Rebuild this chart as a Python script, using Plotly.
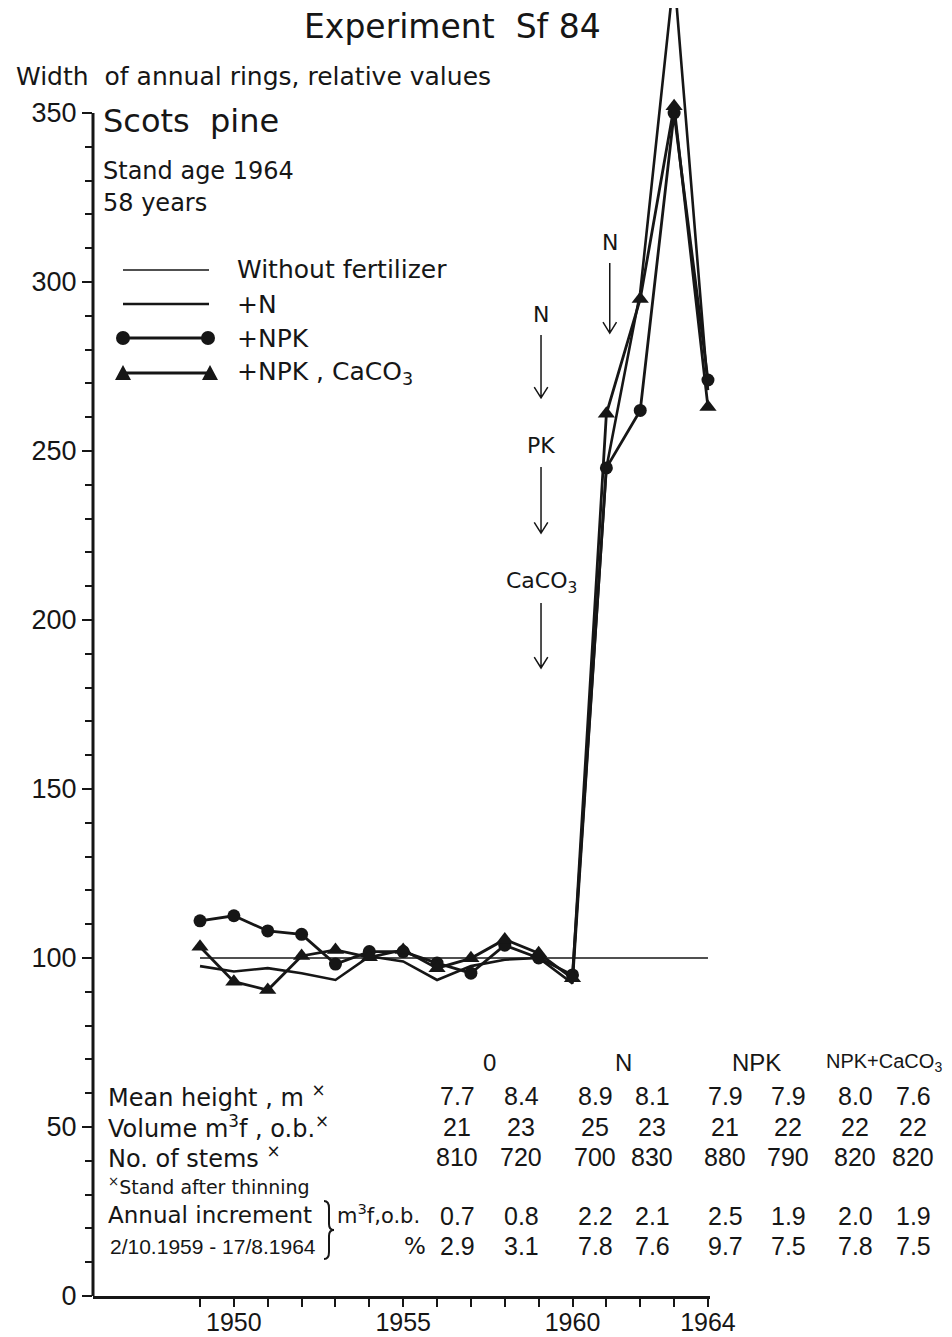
import plotly.graph_objects as go

# ---------------- data ----------------
years = [1949, 1950, 1951, 1952, 1953, 1954, 1955, 1956,
         1957, 1958, 1959, 1960, 1961, 1962, 1963, 1964]
without_fert = [100, 100, 100, 100, 100, 100, 100, 100,
                100, 100, 100, 100, 100, 100, 100, 100]
plus_n = [97.6, 96, 97, 95.5, 93.5, 100.5, 99, 93.5,
          97.6, 99.5, 100, 92.5, 245, 297, 391, 268]
plus_npk = [111, 112.5, 108, 107, 98.2, 101.9, 101.9, 98.5,
            95.5, 103.8, 100, 95, 245, 262, 350, 271]
plus_npk_caco3 = [103.3, 93, 90.5, 100.6, 102.4, 100.2, 102.4, 97,
                  99.9, 105.5, 101.4, 94, 261, 295, 352, 263]

x_major_vals = [1950, 1955, 1960, 1964]
x_major_text = ["1950", "1955", "1960", "1964"]
x_minor_vals = [1949, 1951, 1952, 1953, 1954, 1956, 1957, 1958, 1959, 1961, 1962, 1963]
y_tick_vals = [0, 50, 100, 150, 200, 250, 300, 350]
y_minor_vals = [v for v in range(10, 350, 10) if v % 50 != 0]

# fertilisation arrows: label, year, shaft top, shaft bottom (relative-value units)
arrow_labels = ["N", "PK", "CaCO<sub>3</sub>", "N"]
arrow_years = [1959.07, 1959.07, 1959.07, 1961.1]
arrow_tops = [284.3, 245.3, 205.0, 305.6]
arrow_bottoms = [265.7, 225.7, 185.8, 284.9]

# table
treatments = ["0", "N", "NPK", "NPK+CaCO<sub>3</sub>"]
mean_height = ["7.7", "8.4", "8.9", "8.1", "7.9", "7.9", "8.0", "7.6"]
volume = ["21", "23", "25", "23", "21", "22", "22", "22"]
stems = ["810", "720", "700", "830", "880", "790", "820", "820"]
incr_m3 = ["0.7", "0.8", "2.2", "2.1", "2.5", "1.9", "2.0", "1.9"]
incr_pct = ["2.9", "3.1", "7.8", "7.6", "9.7", "7.5", "7.8", "7.5"]

# ---------------- layout constants ----------------
OFF = 8                               # default body margin of the html page
W, H = 952 - 2 * OFF, 1337 - OFF
SL, SR, SB = 93, 710, 1296            # plot area as seen on screen (left, right, bottom)
X_RANGE = [1945.84, 1964.06]
Y_RANGE = [0, (SB - OFF) / 3.38]
INK = "#161616"
TXT = "DejaVu Sans, Noto Sans, sans-serif"
NUM = "Liberation Sans, Arial, sans-serif"


def px(x):
    return (x - SL) / (SR - SL)


def py(y):
    return (SB - y) / (SB - OFF)


fig = go.Figure()

fig.add_trace(go.Scatter(x=years, y=without_fert, mode="lines",
                         line=dict(color=INK, width=1.4), showlegend=False))
fig.add_trace(go.Scatter(x=years, y=plus_n, mode="lines",
                         line=dict(color=INK, width=2.6), showlegend=False))
fig.add_trace(go.Scatter(x=years, y=plus_npk, mode="lines+markers", cliponaxis=False,
                         line=dict(color=INK, width=2.8),
                         marker=dict(symbol="circle", size=13, color=INK), showlegend=False))
fig.add_trace(go.Scatter(x=years, y=plus_npk_caco3, mode="lines+markers", cliponaxis=False,
                         line=dict(color=INK, width=2.8),
                         marker=dict(symbol="triangle-up", size=15, color=INK), showlegend=False))

shapes = []
annotations = []

# y-axis line only up to 350
shapes.append(dict(type="line", xref="paper", yref="y", x0=0, x1=0, y0=0, y1=350,
                   line=dict(color=INK, width=3)))

# fertilisation arrows
for lab, xa, t, b in zip(arrow_labels, arrow_years, arrow_tops, arrow_bottoms):
    shapes.append(dict(type="path", xref="x", yref="y",
                       path=f"M {xa},{t} L {xa},{b} M {xa-0.2},{b+3.2} L {xa},{b} L {xa+0.2},{b+3.2}",
                       line=dict(color=INK, width=1.5)))
    annotations.append(dict(text=lab, x=xa, y=t + 6.2, xref="x", yref="y", showarrow=False,
                            font=dict(family=TXT, size=22, color=INK)))


def ann(text, x, y, size=24, xanchor="left", family=TXT):
    annotations.append(dict(text=text, x=px(x), y=py(y), xref="paper", yref="paper",
                            xanchor=xanchor, yanchor="middle", showarrow=False,
                            borderpad=0, font=dict(family=family, size=size, color=INK)))


# titles
ann("Experiment  Sf 84", 453, 27, size=33, xanchor="center")
ann("Width  of annual rings, relative values", 15, 76, size=25)
ann("Scots  pine", 102, 121, size=32)
ann("Stand age 1964", 102, 171, size=24)
ann("58 years", 102, 203, size=24)

# legend
leg_rows = [270, 304, 338, 373]
leg_labels = ["Without fertilizer", "+N", "+NPK", "+NPK , CaCO<sub>3</sub>"]
leg_widths = [1.4, 2.6, 2.8, 2.8]
for yy, lab, lw in zip(leg_rows, leg_labels, leg_widths):
    shapes.append(dict(type="line", xref="paper", yref="paper",
                       x0=px(123), x1=px(209), y0=py(yy), y1=py(yy),
                       line=dict(color=INK, width=lw)))
    ann(lab, 236, yy, size=25)
# legend markers
for cx in (123, 208):
    r = 7
    yy = leg_rows[2]
    shapes.append(dict(type="circle", xref="paper", yref="paper",
                       x0=px(cx - r), x1=px(cx + r), y0=py(yy + r), y1=py(yy - r),
                       fillcolor=INK, line=dict(color=INK, width=0)))
for cx in (123, 210):
    yy = leg_rows[3]
    shapes.append(dict(type="path", xref="paper", yref="paper",
                       path=f"M {px(cx-8)},{py(yy+7)} L {px(cx+8)},{py(yy+7)} L {px(cx)},{py(yy-8)} Z",
                       fillcolor=INK, line=dict(color=INK, width=0)))

# table
cols = [457, 521, 595, 652, 725, 788, 855, 913]
for k, name in enumerate(treatments):
    ann(name, (cols[2 * k] + cols[2 * k + 1]) / 2, 1062,
        size=20 if k == 3 else 24, xanchor="center", family=NUM)

ann("Mean height , m <sup>×</sup>", 107, 1096, size=24)
ann("Volume m<sup>3</sup>f , o.b.<sup>×</sup>", 107, 1127, size=24)
ann("No. of stems <sup>×</sup>", 107, 1157, size=24)
ann("<sup>×</sup>Stand after thinning", 107, 1186, size=19)
ann("Annual increment", 107, 1215, size=23)
ann("2/10.1959 - 17/8.1964", 109, 1246, size=21, family=NUM)
ann("m<sup>3</sup>f,o.b.", 336, 1214, size=21)
ann("%", 415, 1246, size=23, xanchor="center")

# curly brace joining the two increment rows
bx, bt, bb = 324, 1201, 1259
bm = (bt + bb) / 2
brace = (f"M {px(bx)},{py(bt)} Q {px(bx+5)},{py(bt)} {px(bx+5)},{py(bt+7)} "
         f"L {px(bx+5)},{py(bm-6)} Q {px(bx+5)},{py(bm)} {px(bx+10)},{py(bm)} "
         f"Q {px(bx+5)},{py(bm)} {px(bx+5)},{py(bm+6)} "
         f"L {px(bx+5)},{py(bb-7)} Q {px(bx+5)},{py(bb)} {px(bx)},{py(bb)}")
shapes.append(dict(type="path", xref="paper", yref="paper", path=brace,
                   line=dict(color=INK, width=2)))

for row_vals, yy in ((mean_height, 1096), (volume, 1127), (stems, 1157),
                     (incr_m3, 1216), (incr_pct, 1246)):
    for cx, v in zip(cols, row_vals):
        ann(v, cx, yy, size=25, xanchor="center", family=NUM)

fig.update_layout(
    width=W, height=H, autosize=False,
    margin=dict(l=SL - OFF, r=W - (SR - OFF), t=0, b=H - (SB - OFF)),
    paper_bgcolor="white", plot_bgcolor="white",
    shapes=shapes, annotations=annotations,
    xaxis=dict(range=X_RANGE, tickmode="array", tickvals=x_major_vals, ticktext=x_major_text,
               automargin=False, ticklabelstandoff=-6,
               ticks="outside", ticklen=8, tickwidth=2.2, tickcolor=INK,
               minor=dict(tickmode="array", tickvals=x_minor_vals, ticks="outside",
                          ticklen=8, tickwidth=2.2, tickcolor=INK, showgrid=False),
               showline=True, linewidth=3, linecolor=INK,
               showgrid=False, zeroline=False,
               tickfont=dict(family=NUM, size=25, color=INK)),
    yaxis=dict(range=Y_RANGE, tickmode="array", tickvals=y_tick_vals,
               automargin=False,
               ticks="outside", ticklen=10, tickwidth=2.2, tickcolor=INK,
               minor=dict(tickmode="array", tickvals=y_minor_vals, ticks="outside",
                          ticklen=7, tickwidth=2.2, tickcolor=INK, showgrid=False),
               showline=False, showgrid=False, zeroline=False,
               tickfont=dict(family=NUM, size=27, color=INK)),
)

fig.write_html("out.html")
